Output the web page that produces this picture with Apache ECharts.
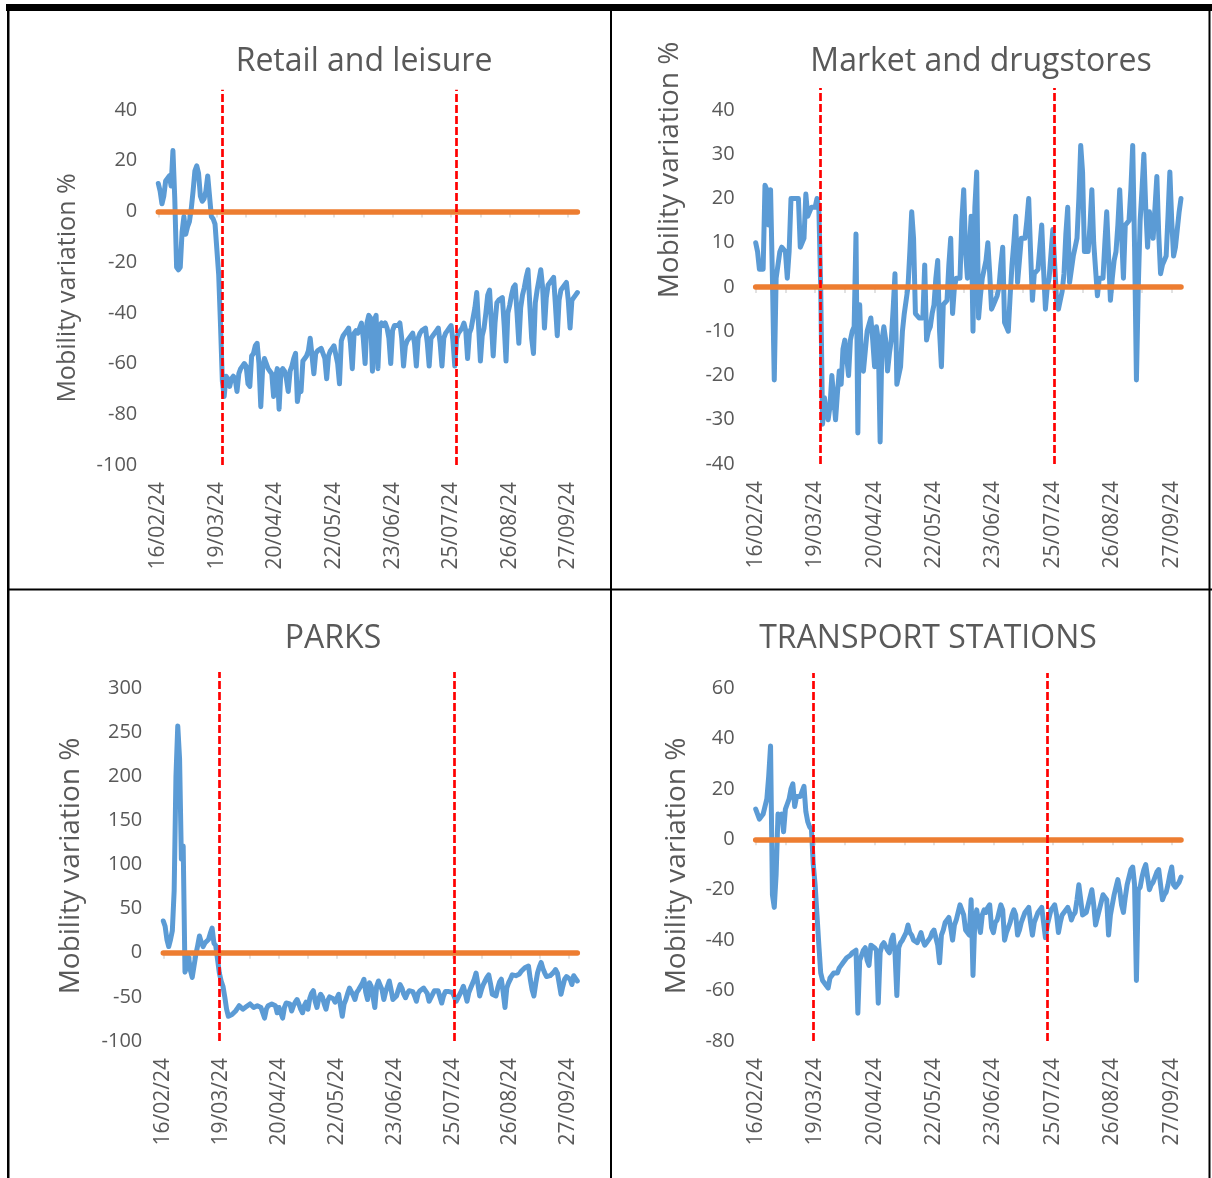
<!DOCTYPE html>
<html>
<head>
<meta charset="utf-8">
<script src="https://cdn.jsdelivr.net/npm/echarts/dist/echarts.min.js"></script>
<style>
html,body{margin:0;padding:0;background:#fff;}
#c{width:1212px;height:1178px;}
</style>
</head>
<body>
<div id="c"></div>
<script>
// ---------------- DATA ----------------
const startDate = [2024, 2, 16];   // first day of the daily series (16/02/24)
const dayCount = 230;              // daily points, 16/02/24 .. 02/10/24

const panelTitles = ['Retail and leisure', 'Market and drugstores', 'PARKS', 'TRANSPORT STATIONS'];
const yAxisTitle = 'Mobility variation %';

const retail = [
  11, 8, 3, 6, 12, 13, 14, 10, 24, 5,
  -22, -23, -22, -8, -2, -9, -6, -4, 1, 8,
  16, 18, 15, 6, 4, 5, 8, 14, 6, -2,
  -3, -5, -15, -25, -45, -67, -73, -65, -66, -69,
  -66, -65, -66, -71, -64, -62, -61, -60, -61, -68,
  -69, -57, -56, -53, -52, -60, -77, -62, -58, -60,
  -62, -63, -64, -73, -66, -62, -78, -63, -62, -63,
  -66, -71, -63, -61, -58, -56, -75, -70, -71, -59,
  -58, -57, -55, -50, -57, -64, -56, -55, -55, -54,
  -54, -58, -66, -57, -55, -54, -53, -53, -60, -68,
  -51, -49, -48, -47, -46, -52, -62, -48, -47, -48,
  -48, -44, -50, -60, -44, -41, -42, -63, -43, -41,
  -62, -45, -44, -45, -44, -46, -50, -60, -47, -45,
  -45, -45, -44, -50, -61, -53, -51, -50, -49, -48,
  -52, -61, -50, -48, -47, -47, -46, -52, -61, -50,
  -49, -48, -47, -46, -52, -61, -50, -48, -47, -46,
  -45, -51, -61, -50, -48, -47, -46, -44, -47, -58,
  -48, -46, -46, -38, -32, -45, -59, -49, -46, -40,
  -33, -31, -44, -57, -44, -36, -35, -35, -34, -45,
  -59, -40, -37, -33, -30, -29, -40, -52, -38, -33,
  -30, -26, -23, -37, -50, -56, -36, -31, -27, -23,
  -30, -46, -34, -29, -28, -27, -26, -37, -49, -35,
  -31, -30, -29, -28, -35, -46, -35, -34, -33, -32
];

const market = [
  10, 8, 4, 4, 4, 23, 22, 14, 22, 2,
  -21, 2, 2, 8, 9, 9, 8, 2, 8, 20,
  20, 20, 20, 20, 9, 10, 11, 21, 16, 17,
  18, 18, 18, 20, 18, 0, -31, -25, -28, -30,
  -27, -20, -25, -30, -24, -19, -22, -14, -12, -12,
  -20, -12, -10, -9, 12, -33, -4, -18, -19, -19,
  -10, -10, -7, -12, -18, -9, -12, -35, -12, -9,
  -12, -19, -15, -12, -5, 3, -22, -20, -18, -10,
  -6, -3, 0, 8, 17, 11, -6, -6, -7, -7,
  -7, 5, -12, -10, -9, -6, -4, 2, 6, -10,
  -18, -4, -4, -3, 5, 11, -6, 0, 2, 2,
  2, 15, 22, 8, 2, 8, 16, -10, 18, 26,
  -7, -2, 2, 2, 6, 10, 3, -5, -4, -3,
  -2, 0, 5, 9, -8, -9, -10, -2, 5, 10,
  16, 1, 6, 11, 11, 11, 15, 20, 8, -3,
  3, 3, 4, 9, 14, 4, -5, 0, 2, 2,
  13, 5, -3, -5, -3, -1, 3, 12, 18, 1,
  4, 7, 9, 11, 20, 32, 26, 8, 8, 8,
  14, 22, 10, 4, -2, 2, 2, 2, 10, 17,
  7, -3, 2, 6, 8, 14, 22, 12, 2, 14,
  14, 15, 22, 32, 9, -21, 0, 15, 22, 30,
  18, 9, 17, 14, 11, 18, 25, 12, 3, 5,
  6, 7, 16, 26, 15, 7, 9, 13, 17, 20
];

const parks = [
  36, 30, 15, 7, 15, 25, 70, 200, 257, 220,
  106, 121, -22, -15, -5, -20, -28, -15, -2, 8,
  19, 12, 7, 11, 12, 15, 22, 28, 11, 8,
  6, -23, -32, -38, -50, -64, -72, -74, -70, -68,
  -66, -63, -60, -62, -64, -64, -61, -59, -58, -60,
  -62, -62, -60, -58, -62, -68, -74, -64, -60, -58,
  -58, -57, -60, -68, -62, -60, -74, -62, -57, -55,
  -58, -66, -60, -56, -53, -58, -64, -68, -60, -56,
  -64, -52, -46, -43, -55, -62, -52, -47, -50, -58,
  -64, -54, -50, -49, -52, -56, -58, -47, -60, -72,
  -58, -53, -46, -40, -38, -48, -53, -45, -42, -44,
  -35, -30, -45, -53, -34, -38, -50, -62, -38, -32,
  -37, -42, -53, -44, -38, -32, -42, -53, -51, -49,
  -42, -36, -40, -47, -51, -46, -43, -42, -44, -49,
  -55, -46, -43, -43, -40, -38, -46, -55, -57, -47,
  -43, -43, -43, -45, -57, -49, -44, -43, -44, -45,
  -45, -50, -55, -51, -49, -43, -38, -46, -55, -45,
  -40, -38, -30, -23, -35, -49, -42, -36, -32, -28,
  -25, -35, -47, -49, -49, -40, -33, -30, -45, -62,
  -40, -34, -30, -25, -23, -26, -28, -24, -21, -19,
  -17, -16, -15, -30, -42, -49, -35, -23, -16, -11,
  -18, -23, -27, -26, -26, -26, -22, -19, -23, -23,
  -47, -38, -30, -27, -25, -30, -36, -26, -29, -32
];

const transport = [
  12, 10, 8, 9, 10, 10, 16, 25, 37, -22,
  -27, -14, 10, 9, 10, 3, 12, 14, 16, 20,
  22, 13, 17, 17, 17, 17, 21, 11, 7, 5,
  4, -10, -18, -30, -42, -53, -56, -57, -58, -59,
  -55, -54, -53, -53, -53, -51, -50, -49, -48, -47,
  -47, -46, -45, -45, -44, -69, -48, -46, -44, -43,
  -48, -50, -42, -42, -43, -44, -65, -45, -42, -41,
  -41, -44, -45, -40, -38, -45, -62, -43, -41, -40,
  -40, -37, -34, -37, -38, -40, -40, -41, -39, -37,
  -40, -42, -41, -41, -39, -37, -36, -36, -42, -49,
  -38, -36, -33, -32, -31, -35, -40, -34, -32, -29,
  -26, -26, -30, -36, -37, -38, -24, -54, -32, -28,
  -33, -37, -30, -28, -29, -27, -26, -35, -37, -33,
  -32, -29, -26, -28, -40, -37, -35, -33, -30, -28,
  -30, -38, -36, -33, -31, -29, -28, -27, -33, -38,
  -33, -31, -29, -28, -27, -33, -39, -34, -31, -28,
  -27, -26, -30, -37, -33, -30, -29, -28, -27, -29,
  -32, -30, -29, -24, -18, -24, -30, -30, -29, -26,
  -23, -20, -26, -34, -31, -28, -25, -22, -23, -24,
  -38, -30, -26, -22, -19, -16, -20, -26, -29, -23,
  -18, -15, -12, -11, -18, -56, -20, -19, -15, -12,
  -10, -15, -20, -18, -17, -15, -13, -12, -18, -24,
  -22, -21, -18, -14, -11, -18, -19, -18, -17, -15
];

// day index of the two red dashed marker lines in each panel
const markerDays = [[35, 163], [35, 161], [31, 161], [31, 157]];
const zeroLevel = 0;

// ---------------- CATEGORIES ----------------
function pad(n) { return (n < 10 ? '0' : '') + n; }
const dates = [];
const t0 = Date.UTC(startDate[0], startDate[1] - 1, startDate[2]);
for (let i = 0; i < dayCount; i++) {
  const d = new Date(t0 + i * 86400000);
  dates.push(pad(d.getUTCDate()) + '/' + pad(d.getUTCMonth() + 1) + '/' + String(d.getUTCFullYear()).slice(2));
}

// ---------------- LAYOUT / STYLE ----------------
const FONT = '"Open Sans", "Noto Sans", sans-serif';
const TXT = '#595959';
const panels = [
  { data: retail,    grid: { left: 158.3, top: 89.7,  width: 419.1, height: 375.3 }, y: { min: -100, max: 48,  interval: 20 }, tx: 364, ty: 46,  nx: 68,  ny: 288, nf: 25 },
  { data: market,    grid: { left: 755.7, top: 87.9,  width: 425.3, height: 376.1 }, y: { min: -40,  max: 45,  interval: 10 }, tx: 981, ty: 46,  nx: 670, ny: 170, nf: 28 },
  { data: parks,     grid: { left: 163.3, top: 672.1, width: 414.0, height: 368.9 }, y: { min: -100, max: 318, interval: 50 }, tx: 333, ty: 623, nx: 71,  ny: 866, nf: 28 },
  { data: transport, grid: { left: 755.7, top: 672.9, width: 425.3, height: 368.1 }, y: { min: -80,  max: 66,  interval: 20 }, tx: 928, ty: 623, nx: 677, ny: 866, nf: 28 }
];

const grid = [], xAxis = [], yAxis = [], series = [], title = [], graphic = [];

panels.forEach((p, i) => {
  grid.push(Object.assign({ containLabel: false }, p.grid));
  // label axis at the bottom
  xAxis.push({
    gridIndex: i, type: 'category', data: dates, boundaryGap: false, position: 'bottom',
    axisLine: { show: false, onZero: false }, axisTick: { show: false },
    axisLabel: { interval: 31, rotate: 90, fontSize: 21, color: TXT, fontFamily: FONT, margin: 17 },
    splitLine: { show: false }
  });
  // tick axis on zero
  xAxis.push({
    gridIndex: i, type: 'category', data: dates, boundaryGap: false, position: 'bottom',
    axisLine: { show: false, onZero: true },
    axisTick: { show: true, interval: 15, length: 6, lineStyle: { color: '#D9D9D9', width: 1.5 } },
    axisLabel: { show: false }, splitLine: { show: false }
  });
  yAxis.push({
    gridIndex: i, type: 'value', min: p.y.min, max: p.y.max, interval: p.y.interval,
    axisLine: { show: false }, axisTick: { show: false }, splitLine: { show: false },
    axisLabel: { showMaxLabel: false, fontSize: 20, color: TXT, fontFamily: FONT, margin: 21 }
  });
  series.push({
    type: 'line', xAxisIndex: 2 * i, yAxisIndex: i, data: p.data,
    symbol: 'none', showSymbol: false, z: 2,
    lineStyle: { color: '#5B9BD5', width: 5, join: 'round', cap: 'round' },
    emphasis: { disabled: true }
  });
  series.push({
    type: 'line', xAxisIndex: 2 * i, yAxisIndex: i, data: [], z: 3,
    markLine: {
      silent: true, symbol: 'none', z: 6, label: { show: false }, animation: false,
      lineStyle: { color: '#ED7D31', width: 5.5, type: 'solid', cap: 'round' },
      data: [{ yAxis: zeroLevel }]
    }
  });
  series.push({
    type: 'line', xAxisIndex: 2 * i, yAxisIndex: i, data: [], z: 4,
    markLine: {
      silent: true, symbol: 'none', z: 7, label: { show: false }, animation: false,
      lineStyle: { color: '#FF0000', width: 2.7, type: [8, 3] },
      data: markerDays[i].map(d => ({ xAxis: dates[d] }))
    }
  });
  title.push({
    text: panelTitles[i], left: p.tx, top: p.ty, textAlign: 'center', padding: 0,
    textStyle: { fontSize: 32, fontWeight: 'normal', color: TXT, fontFamily: FONT }
  });
  graphic.push({
    type: 'text', x: p.nx, y: p.ny, rotation: Math.PI / 2, silent: true,
    style: { text: yAxisTitle, fontSize: p.nf, fontFamily: FONT, fill: TXT, textAlign: 'center', textVerticalAlign: 'middle', verticalAlign: 'middle' }
  });
});

// panel borders
[
  { x: 6, y: 4, width: 1206, height: 7 },
  { x: 7, y: 4, width: 2.5, height: 1174 },
  { x: 1208.5, y: 4, width: 2, height: 1174 },
  { x: 610, y: 4, width: 2, height: 1174 },
  { x: 7, y: 588.5, width: 1205, height: 2 }
].forEach(s => graphic.push({ type: 'rect', shape: s, silent: true, style: { fill: '#000' }, z: 100 }));

const chart = echarts.init(document.getElementById('c'), null, { renderer: 'canvas' });
chart.setOption({
  animation: false,
  backgroundColor: '#ffffff',
  textStyle: { fontFamily: FONT },
  title, grid, xAxis, yAxis, series, graphic
});
</script>
</body>
</html>
